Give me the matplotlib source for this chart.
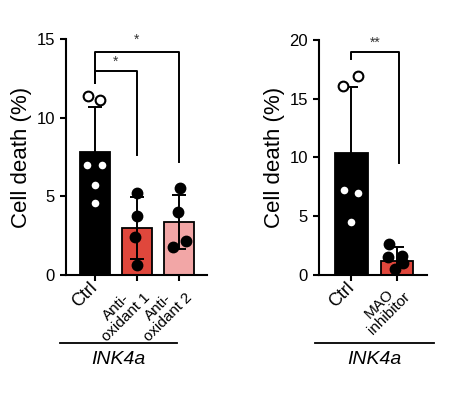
import numpy as np
import matplotlib.pyplot as plt
from matplotlib.lines import Line2D
from matplotlib.transforms import ScaledTranslation

plt.rcParams['font.family'] = ['Liberation Sans', 'DejaVu Sans']

# 左图数据
left_names = ['Ctrl', 'Anti-\noxidant 1', 'Anti-\noxidant 2']
left_mean = [7.84, 2.97, 3.39]
left_sd = [2.82, 1.98, 1.72]
left_pts = [[11.4, 11.1, 7.0, 7.0, 5.7, 4.6],
            [5.23, 3.75, 2.4, 0.64],
            [5.51, 4.03, 1.8, 2.16]]
left_jit = [[-0.17, 0.12, -0.19, 0.17, 0.0, 0.0],
            [0.0, 0.0, -0.05, 0.0],
            [0.02, -0.02, -0.14, 0.17]]
left_colors = ['black', '#e0473c', '#f2a6a6']

# 右图数据
right_names = ['Ctrl', 'MAO\ninhibitor']
right_mean = [10.36, 1.19]
right_sd = [5.67, 1.17]
right_pts = [[16.1, 16.9, 7.23, 7.0, 4.54],
             [2.64, 1.56, 1.62, 1.0, 0.49]]
right_jit = [[-0.19, 0.14, -0.16, 0.14, 0.0],
             [-0.18, -0.2, 0.11, 0.13, -0.04]]
right_colors = ['black', '#e0473c']

fig = plt.figure(figsize=(4.5, 3.99), dpi=100)
ax1 = fig.add_axes([0.1467, 0.3108, 0.3133, 0.5915])
ax2 = fig.add_axes([0.7089, 0.3108, 0.2393, 0.589])


def draw_panel(ax, names, mean, sd, pts, jit, colors, ymax, step, xlim):
    x = np.arange(len(names))
    ax.bar(x, mean, width=0.71, color=colors, edgecolor='black', linewidth=1.3, zorder=1)
    ax.errorbar(x, mean, yerr=sd, fmt='none', ecolor='black', elinewidth=1.4,
                capsize=5, capthick=1.4, zorder=2)
    for i in range(len(names)):
        face = 'white' if i == 0 else 'black'
        ax.plot(x[i] + np.array(jit[i]), pts[i], 'o', ms=7, mfc=face, mec='black',
                mew=1.5, zorder=3, clip_on=False)
    ax.set_xlim(*xlim)
    ax.set_ylim(0, ymax)
    ax.set_yticks(np.arange(0, ymax + 1, step))
    ax.set_xticks(x)
    ax.set_xticklabels([])
    # 斜着的分组标签，自己画，两行的往右下挪一点
    for i, name in enumerate(names):
        if i == 0:
            off = ScaledTranslation(0.0, -0.10, fig.dpi_scale_trans)
            fs = 13
        else:
            off = ScaledTranslation(0.06, -0.15, fig.dpi_scale_trans)
            fs = 11
        ax.text(x[i], 0, name, transform=ax.get_xaxis_transform() + off,
                rotation=45, rotation_mode='anchor', ha='right', va='center',
                multialignment='center', fontsize=fs, clip_on=False,
                linespacing=1.0)
    ax.spines['top'].set_visible(False)
    ax.spines['right'].set_visible(False)
    ax.spines['left'].set_linewidth(1.5)
    ax.spines['bottom'].set_linewidth(1.5)
    ax.tick_params(axis='both', width=1.5, length=4.5, labelsize=12)
    ax.set_ylabel('Cell death (%)', fontsize=16, labelpad=3)


draw_panel(ax1, left_names, left_mean, left_sd, left_pts, left_jit, left_colors,
           15, 5, (-0.69, 2.67))
draw_panel(ax2, right_names, right_mean, right_sd, right_pts, right_jit, right_colors,
           20, 5, (-0.71, 1.65))

# 显著性标记
def bracket(ax, x0, x1, y, yl, yr, label, dy):
    ax.plot([x0, x0, x1, x1], [yl, y, y, yr], color='black', lw=1.4, clip_on=False)
    ax.text((x0 + x1) / 2, y + dy, label, ha='center', va='center', fontsize=10,
            color='#333333')

bracket(ax1, 0, 2, 14.16, 12.2, 7.2, '*', 0.8)
bracket(ax1, 0, 1, 12.99, 12.2, 7.63, '*', 0.55)
bracket(ax2, 0, 1.05, 19.0, 18.4, 9.5, '**', 0.75)

# 底部 INK4a 标注
fig.add_artist(Line2D([60 / 450, 177 / 450], [1 - 342.7 / 399] * 2, color='black', lw=1.3))
fig.add_artist(Line2D([315 / 450, 434 / 450], [1 - 342.7 / 399] * 2, color='black', lw=1.3))
fig.text(118 / 450, 1 - 360 / 399, 'INK4a', ha='center', va='center', fontsize=14,
         style='italic')
fig.text(374 / 450, 1 - 360 / 399, 'INK4a', ha='center', va='center', fontsize=14,
         style='italic')

plt.savefig('out.png', dpi=100)
